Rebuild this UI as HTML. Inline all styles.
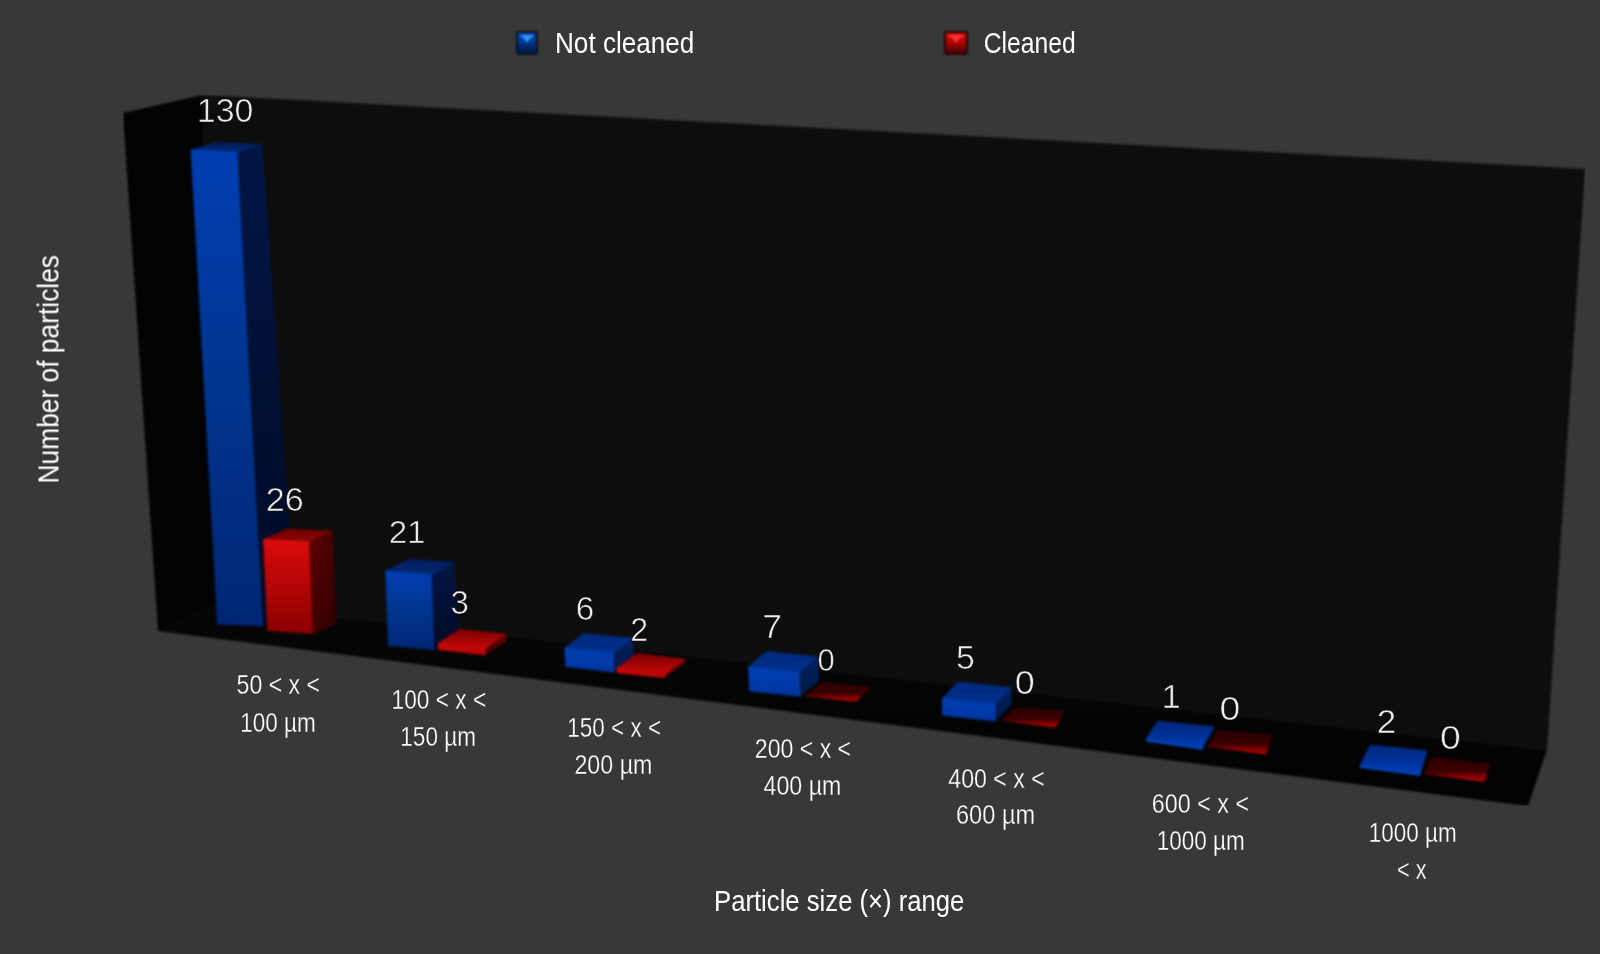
<!DOCTYPE html>
<html><head><meta charset="utf-8"><style>
html,body{margin:0;padding:0;background:#383838;width:1600px;height:954px;overflow:hidden}
svg{display:block}
text{font-family:"Liberation Sans",sans-serif}
.thin text.c{stroke:#383838;stroke-width:0.3px}
</style></head><body>
<svg width="1600" height="954" viewBox="0 0 1600 954">

<defs>
<linearGradient id="floorg" x1="0" y1="0" x2="0" y2="1">
 <stop offset="0" stop-color="#060606"/><stop offset="1" stop-color="#020202"/>
</linearGradient>
<linearGradient id="bfront" x1="0" y1="0" x2="0" y2="1">
 <stop offset="0" stop-color="#003eb2"/><stop offset="0.5" stop-color="#00358f"/><stop offset="1" stop-color="#002674"/>
</linearGradient>
<linearGradient id="bside" x1="0" y1="0" x2="0" y2="1">
 <stop offset="0" stop-color="#001646"/><stop offset="1" stop-color="#000a24"/>
</linearGradient>
<linearGradient id="btop" x1="0" y1="0" x2="0" y2="1">
 <stop offset="0" stop-color="#001c58"/><stop offset="1" stop-color="#002a78"/>
</linearGradient>
<linearGradient id="bsfront" x1="0" y1="0" x2="0" y2="1">
 <stop offset="0" stop-color="#0040b4"/><stop offset="1" stop-color="#0034a0"/>
</linearGradient>
<linearGradient id="bsside" x1="0" y1="0" x2="0" y2="1">
 <stop offset="0" stop-color="#00205e"/><stop offset="1" stop-color="#001846"/>
</linearGradient>
<linearGradient id="bstop" x1="0" y1="0" x2="0" y2="1">
 <stop offset="0" stop-color="#00297a"/><stop offset="1" stop-color="#003090"/>
</linearGradient>
<linearGradient id="btopflat" x1="0" y1="0" x2="0" y2="1">
 <stop offset="0" stop-color="#00287c"/><stop offset="0.6" stop-color="#00329a"/><stop offset="1" stop-color="#003eb4"/>
</linearGradient>
<linearGradient id="rfront" x1="0" y1="0" x2="0" y2="1">
 <stop offset="0" stop-color="#dc0b0b"/><stop offset="1" stop-color="#8a0000"/>
</linearGradient>
<linearGradient id="rside" x1="0" y1="0" x2="1" y2="1">
 <stop offset="0" stop-color="#600000"/><stop offset="1" stop-color="#2c0000"/>
</linearGradient>
<linearGradient id="rtop" x1="0" y1="0" x2="0" y2="1">
 <stop offset="0" stop-color="#720000"/><stop offset="1" stop-color="#8c0404"/>
</linearGradient>
<linearGradient id="rsfront" x1="0" y1="0" x2="0" y2="1">
 <stop offset="0" stop-color="#cc0808"/><stop offset="1" stop-color="#b00606"/>
</linearGradient>
<linearGradient id="rsside" x1="0" y1="0" x2="0" y2="1">
 <stop offset="0" stop-color="#600000"/><stop offset="1" stop-color="#4a0000"/>
</linearGradient>
<linearGradient id="rstop" x1="0" y1="0" x2="0" y2="1">
 <stop offset="0" stop-color="#780000"/><stop offset="1" stop-color="#c80808"/>
</linearGradient>
<linearGradient id="r0g" x1="0" y1="0" x2="0" y2="1">
 <stop offset="0" stop-color="#2a0000"/><stop offset="0.6" stop-color="#3c0000"/><stop offset="0.78" stop-color="#8a0000"/><stop offset="0.92" stop-color="#a00404"/><stop offset="1" stop-color="#700000"/>
</linearGradient>
<linearGradient id="bico" x1="0" y1="0" x2="0" y2="1">
 <stop offset="0" stop-color="#0a4aa8"/><stop offset="0.5" stop-color="#003488"/><stop offset="1" stop-color="#001640"/>
</linearGradient>
<linearGradient id="rico" x1="0" y1="0" x2="0" y2="1">
 <stop offset="0" stop-color="#d81010"/><stop offset="0.5" stop-color="#a80606"/><stop offset="1" stop-color="#4a0000"/>
</linearGradient>
<linearGradient id="bicoedge" x1="0" y1="0" x2="1" y2="0">
 <stop offset="0" stop-color="#000" stop-opacity="0.45"/><stop offset="0.2" stop-color="#000" stop-opacity="0"/><stop offset="0.8" stop-color="#000" stop-opacity="0"/><stop offset="1" stop-color="#000" stop-opacity="0.45"/>
</linearGradient>
<linearGradient id="ricoedge" x1="0" y1="0" x2="1" y2="0">
 <stop offset="0" stop-color="#000" stop-opacity="0.45"/><stop offset="0.2" stop-color="#000" stop-opacity="0"/><stop offset="0.8" stop-color="#000" stop-opacity="0"/><stop offset="1" stop-color="#000" stop-opacity="0.45"/>
</linearGradient>
<filter id="bl1" x="-50%" y="-50%" width="200%" height="200%" color-interpolation-filters="sRGB"><feGaussianBlur stdDeviation="0.8"/></filter>
<filter id="vl" x="0" y="0" width="100%" height="100%" color-interpolation-filters="sRGB"><feGaussianBlur stdDeviation="0.55"/></filter>
<filter id="tx" x="0" y="0" width="100%" height="100%" color-interpolation-filters="sRGB"><feGaussianBlur stdDeviation="0.35"/></filter>
<filter id="soft" x="0" y="0" width="100%" height="100%" color-interpolation-filters="sRGB"><feGaussianBlur stdDeviation="1.0"/></filter>
</defs>

<rect width="1600" height="954" fill="#383838"/>
<g filter="url(#soft)">
<polygon points="202.0,95.0 1585.0,169.0 1547.0,750.0 218.0,604.0" fill="#0d0d0d"/>
<polygon points="123.0,113.0 202.0,95.0 218.0,604.0 158.0,631.0" fill="#020202"/>
<polygon points="158.0,631.0 218.0,604.0 1547.0,750.0 1528.0,806.0" fill="url(#floorg)"/>
<polygon points="237.0,152.0 262.0,144.5 295.5,615.0 262.5,626.0" fill="url(#bside)" stroke="url(#bside)" stroke-width="0.6"/>
<polygon points="191.0,150.0 237.0,152.0 262.0,144.5 216.0,142.5" fill="url(#btop)" stroke="url(#btop)" stroke-width="0.6"/>
<polygon points="191.0,150.0 237.0,152.0 262.5,626.0 217.5,624.0" fill="url(#bfront)" stroke="url(#bfront)" stroke-width="0.6"/>
<polygon points="308.7,541.5 332.2,531.0 336.8,624.0 312.4,633.6" fill="url(#rside)" stroke="url(#rside)" stroke-width="0.6"/>
<polygon points="263.5,539.5 308.7,541.5 332.2,531.0 287.0,529.0" fill="url(#rtop)" stroke="url(#rtop)" stroke-width="0.6"/>
<polygon points="263.5,539.5 308.7,541.5 312.4,633.6 267.6,630.5" fill="url(#rfront)" stroke="url(#rfront)" stroke-width="0.6"/>
<polygon points="431.3,574.7 454.5,562.5 458.6,637.0 434.0,649.7" fill="url(#bside)" stroke="url(#bside)" stroke-width="0.6"/>
<polygon points="385.7,571.3 431.3,574.7 454.5,562.5 408.9,559.1" fill="url(#btop)" stroke="url(#btop)" stroke-width="0.6"/>
<polygon points="385.7,571.3 431.3,574.7 434.0,649.7 388.4,645.6" fill="url(#bfront)" stroke="url(#bfront)" stroke-width="0.6"/>
<polygon points="485.1,648.3 506.2,634.0 506.2,640.8 485.1,655.1" fill="url(#rsside)" stroke="url(#rsside)" stroke-width="0.6"/>
<polygon points="438.1,643.5 485.1,648.3 506.2,634.0 459.2,629.2" fill="url(#rstop)" stroke="url(#rstop)" stroke-width="0.6"/>
<polygon points="438.1,643.5 485.1,648.3 485.1,655.1 438.8,649.7" fill="url(#rsfront)" stroke="url(#rsfront)" stroke-width="0.6"/>
<polygon points="613.4,652.9 632.8,638.2 633.5,657.0 614.0,672.3" fill="url(#bsside)" stroke="url(#bsside)" stroke-width="0.6"/>
<polygon points="564.7,648.2 613.4,652.9 632.8,638.2 584.1,633.5" fill="url(#bstop)" stroke="url(#bstop)" stroke-width="0.6"/>
<polygon points="564.7,648.2 613.4,652.9 614.0,672.3 565.7,666.5" fill="url(#bsfront)" stroke="url(#bsfront)" stroke-width="0.6"/>
<polygon points="665.3,673.9 685.2,659.2 684.2,663.3 664.3,678.0" fill="url(#rsside)" stroke="url(#rsside)" stroke-width="0.6"/>
<polygon points="617.1,668.1 665.3,673.9 685.2,659.2 637.0,653.4" fill="url(#rstop)" stroke="url(#rstop)" stroke-width="0.6"/>
<polygon points="617.1,668.1 665.3,673.9 664.3,678.0 617.1,672.8" fill="url(#rsfront)" stroke="url(#rsfront)" stroke-width="0.6"/>
<polygon points="799.2,672.6 817.6,657.0 818.8,680.7 800.3,696.3" fill="url(#bsside)" stroke="url(#bsside)" stroke-width="0.6"/>
<polygon points="748.4,666.9 799.2,672.6 817.6,657.0 766.8,651.3" fill="url(#bstop)" stroke="url(#bstop)" stroke-width="0.6"/>
<polygon points="748.4,666.9 799.2,672.6 800.3,696.3 749.6,691.1" fill="url(#bsfront)" stroke="url(#bsfront)" stroke-width="0.6"/>
<polygon points="805.0,696.3 855.6,702.0 871.8,687.0 822.2,681.8" fill="url(#r0g)"/>
<polygon points="995.3,704.4 1010.9,687.6 1011.0,705.0 995.3,721.1" fill="url(#bsside)" stroke="url(#bsside)" stroke-width="0.6"/>
<polygon points="942.3,698.6 995.3,704.4 1010.9,687.6 957.9,681.8" fill="url(#bstop)" stroke="url(#bstop)" stroke-width="0.6"/>
<polygon points="942.3,698.6 995.3,704.4 995.3,721.1 942.3,715.3" fill="url(#bsfront)" stroke="url(#bsfront)" stroke-width="0.6"/>
<polygon points="1001.1,720.5 1055.3,728.0 1065.6,710.7 1016.1,706.7" fill="url(#r0g)"/>
<polygon points="1146.1,738.6 1202.6,746.7 1202.6,749.7 1146.1,741.6" fill="#0046c4"/>
<polygon points="1202.6,746.7 1214.1,726.5 1214.1,729.5 1202.6,749.7" fill="#001a50"/>
<polygon points="1146.1,738.6 1202.6,746.7 1214.1,726.5 1157.7,720.7" fill="url(#btopflat)"/>
<polygon points="1207.2,746.7 1266.0,754.7 1272.9,734.6 1217.6,730.0" fill="url(#r0g)"/>
<polygon points="1360.1,764.7 1420.5,773.1 1420.5,776.1 1360.1,767.7" fill="#0046c4"/>
<polygon points="1420.5,773.1 1427.2,750.5 1427.2,753.5 1420.5,776.1" fill="#001a50"/>
<polygon points="1360.1,764.7 1420.5,773.1 1427.2,750.5 1370.2,744.6" fill="url(#btopflat)"/>
<polygon points="1423.9,774.0 1484.3,782.3 1490.2,763.9 1431.4,756.3" fill="url(#r0g)"/>
</g>
<g filter="url(#bl1)">
<g>
<rect x="516" y="31" width="22" height="24" rx="2" fill="#061428"/>
<rect x="518" y="33" width="18" height="20" rx="1" fill="url(#bico)"/>
<polygon points="520,35 534,35 529.0,40 527.0,43 525.0,40" fill="#2c94ff"/>
</g>
<g>
<rect x="944" y="31" width="24" height="24" rx="2" fill="#2a0404"/>
<rect x="946" y="33" width="20" height="20" rx="1" fill="url(#rico)"/>
<polygon points="948,35 964,35 958.0,40 956.0,43 954.0,40" fill="#ff3434"/>
</g>
</g>
<g filter="url(#vl)">
<text transform="translate(196.85,121.80) scale(1.0379,1)" font-size="32.71" fill="#ececec" stroke="#0d0d0d" stroke-width="0.6">130</text>
<text transform="translate(265.69,510.80) scale(1.0279,1)" font-size="33.29" fill="#ececec" stroke="#0d0d0d" stroke-width="0.6">26</text>
<text transform="translate(388.64,542.80) scale(1.0330,1)" font-size="32.14" fill="#ececec" stroke="#0d0d0d" stroke-width="0.6">21</text>
<text transform="translate(450.38,613.90) scale(0.9845,1)" font-size="33.57" fill="#ececec" stroke="#0d0d0d" stroke-width="0.6">3</text>
<text transform="translate(575.83,619.60) scale(0.9804,1)" font-size="34.00" fill="#ececec" stroke="#0d0d0d" stroke-width="0.6">6</text>
<text transform="translate(630.20,640.50) scale(0.9895,1)" font-size="32.43" fill="#ececec" stroke="#0d0d0d" stroke-width="0.6">2</text>
<text transform="translate(762.23,637.70) scale(1.0756,1)" font-size="32.90" fill="#ececec" stroke="#0d0d0d" stroke-width="0.6">7</text>
<text transform="translate(817.56,670.60) scale(0.9788,1)" font-size="31.71" fill="#ececec" stroke="#0d0d0d" stroke-width="0.6">0</text>
<text transform="translate(955.94,668.90) scale(1.0037,1)" font-size="33.77" fill="#ececec" stroke="#0d0d0d" stroke-width="0.6">5</text>
<text transform="translate(1014.66,694.30) scale(1.1065,1)" font-size="32.57" fill="#ececec" stroke="#0d0d0d" stroke-width="0.6">0</text>
<text transform="translate(1161.41,708.30) scale(1.0482,1)" font-size="32.90" fill="#ececec" stroke="#0d0d0d" stroke-width="0.6">1</text>
<text transform="translate(1219.50,720.40) scale(1.1564,1)" font-size="32.43" fill="#ececec" stroke="#0d0d0d" stroke-width="0.6">0</text>
<text transform="translate(1376.85,733.10) scale(1.0321,1)" font-size="33.86" fill="#ececec" stroke="#0d0d0d" stroke-width="0.6">2</text>
<text transform="translate(1440.00,748.80) scale(1.1564,1)" font-size="32.43" fill="#ececec" stroke="#0d0d0d" stroke-width="0.6">0</text>
</g>
<g filter="url(#tx)" class="thin">
<text transform="translate(236.58,694.40) scale(0.8160,1)" font-size="28.30" fill="#ffffff" class="c">50 &lt; x &lt;</text>
<text transform="translate(240.21,731.50) scale(0.7967,1)" font-size="28.30" fill="#ffffff" class="c">100 µm</text>
<text transform="translate(391.60,708.80) scale(0.8019,1)" font-size="28.30" fill="#ffffff" class="c">100 &lt; x &lt;</text>
<text transform="translate(400.31,746.40) scale(0.7967,1)" font-size="28.30" fill="#ffffff" class="c">150 µm</text>
<text transform="translate(567.31,737.00) scale(0.7949,1)" font-size="28.30" fill="#ffffff" class="c">150 &lt; x &lt;</text>
<text transform="translate(574.44,774.00) scale(0.8211,1)" font-size="28.30" fill="#ffffff" class="c">200 µm</text>
<text transform="translate(754.85,758.40) scale(0.8161,1)" font-size="28.30" fill="#ffffff" class="c">200 &lt; x &lt;</text>
<text transform="translate(763.54,795.00) scale(0.8200,1)" font-size="28.30" fill="#ffffff" class="c">400 µm</text>
<text transform="translate(948.24,787.80) scale(0.8188,1)" font-size="28.30" fill="#ffffff" class="c">400 &lt; x &lt;</text>
<text transform="translate(956.02,824.00) scale(0.8330,1)" font-size="28.30" fill="#ffffff" class="c">600 µm</text>
<text transform="translate(1151.83,812.70) scale(0.8248,1)" font-size="28.30" fill="#ffffff" class="c">600 &lt; x &lt;</text>
<text transform="translate(1156.71,849.50) scale(0.7956,1)" font-size="28.30" fill="#ffffff" class="c">1000 µm</text>
<text transform="translate(1368.71,841.90) scale(0.7947,1)" font-size="28.30" fill="#ffffff" class="c">1000 µm</text>
<text transform="translate(1397.11,878.60) scale(0.7692,1)" font-size="28.30" fill="#ffffff" class="c">&lt; x</text>
<text transform="translate(555.01,53.00) scale(0.8880,1)" font-size="29.40" fill="#ffffff" >Not cleaned</text>
<text transform="translate(983.77,53.00) scale(0.8386,1)" font-size="29.40" fill="#ffffff" >Cleaned</text>
<text transform="translate(714.05,910.90) scale(0.8503,1)" font-size="30.20" fill="#ffffff" >Particle size (×) range</text>
<g transform="translate(58.5,483.51) rotate(-90)"><text transform="scale(0.9093,1)" font-size="29.0" fill="#ffffff">Number of particles</text></g>
</g>
</svg>
</body></html>
